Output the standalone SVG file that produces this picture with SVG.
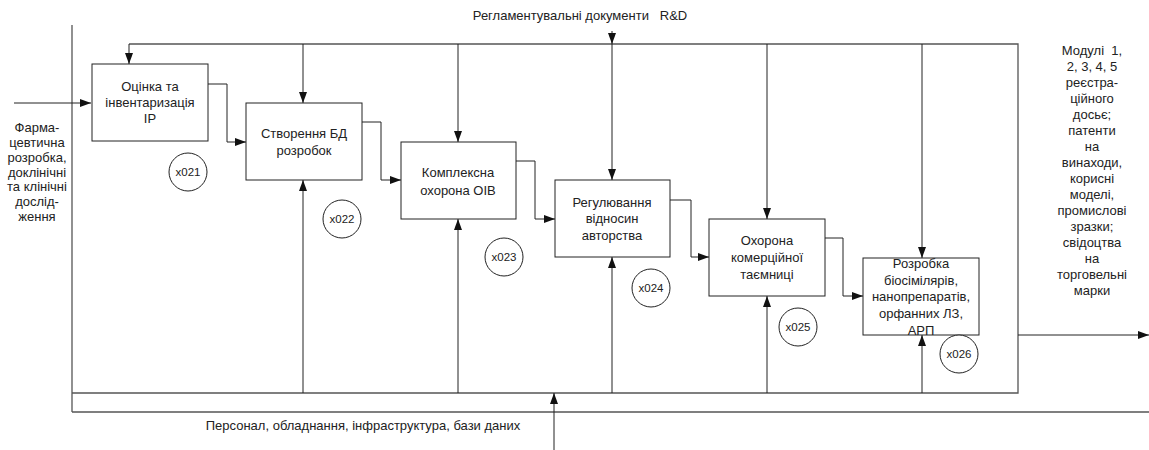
<svg xmlns="http://www.w3.org/2000/svg" width="1149" height="450" viewBox="0 0 1149 450">
<defs>
<marker id="ah" viewBox="0 0 11 8" refX="11" refY="4" markerWidth="11" markerHeight="8" markerUnits="userSpaceOnUse" orient="auto">
<path d="M0,0 L11,4 L0,8 Z" fill="#111"/>
</marker>
</defs>
<style>
text{font-family:"Liberation Sans",Arial,sans-serif;font-size:13px;fill:#222;text-anchor:middle}
.box{fill:#fff;stroke:#222;stroke-width:1}
.frame{fill:none;stroke:#555;stroke-width:1.3}
.a{fill:none;stroke:#222;stroke-width:1;marker-end:url(#ah)}
.circ{fill:#fff;stroke:#222;stroke-width:1}
.ct{font-size:11.5px}
</style>
<rect width="1149" height="450" fill="#fff"/>
<g id="frame">
<path class="frame" d="M72,25 V412"/>
<path class="frame" d="M129,44 H1018 V393 H72"/>
<path class="frame" d="M72,412 H1149"/>
</g>
<g id="connectors">
<path class="a" d="M14,103 H91"/>
<path class="a" d="M129,44 V64"/>
<path class="a" d="M303,44 V103"/>
<path class="a" d="M458,44 V142"/>
<path class="a" d="M612,31 V44"/>
<path class="a" d="M612,44 V180"/>
<path class="a" d="M767,44 V219"/>
<path class="a" d="M922,44 V258"/>
<path class="a" d="M208,84 H227 V142 H246"/>
<path class="a" d="M362,122 H381 V180 H401"/>
<path class="a" d="M516,161 H535 V219 H555"/>
<path class="a" d="M670,200 H691 V257 H709"/>
<path class="a" d="M825,238 H843 V296 H863"/>
<path class="a" d="M303,393 V180"/>
<path class="a" d="M458,393 V219"/>
<path class="a" d="M612,393 V257"/>
<path class="a" d="M767,393 V296"/>
<path class="a" d="M922,393 V335"/>
<path class="a" d="M554,450 V393"/>
<path class="a" d="M1018,335 H1149"/>
</g>
<g id="n1">
<rect class="box" x="92" y="64" width="116" height="77"/>
<text x="150" y="91">Оцінка та</text>
<text x="150" y="107">інвентаризація</text>
<text x="150" y="123">IP</text>
</g>
<g id="n2">
<rect class="box" x="246" y="103" width="116" height="77"/>
<text x="304" y="138">Створення БД</text>
<text x="304" y="155">розробок</text>
</g>
<g id="n3">
<rect class="box" x="401" y="142" width="115" height="77"/>
<text x="458" y="177">Комплексна</text>
<text x="458" y="195">охорона OIB</text>
</g>
<g id="n4">
<rect class="box" x="555" y="180" width="115" height="77"/>
<text x="612" y="207">Регулювання</text>
<text x="612" y="223">відносин</text>
<text x="612" y="240">авторства</text>
</g>
<g id="n5">
<rect class="box" x="709" y="219" width="116" height="77"/>
<text x="767" y="245">Охорона</text>
<text x="767" y="262">комерційної</text>
<text x="767" y="279">таємниці</text>
</g>
<g id="n6">
<rect class="box" x="863" y="258" width="116" height="77"/>
<text x="921" y="268">Розробка</text>
<text x="921" y="285">біосімілярів,</text>
<text x="921" y="301">нанопрепаратів,</text>
<text x="921" y="318">орфанних ЛЗ,</text>
<text x="921" y="335">АРП</text>
</g>
<g id="tags">
<circle class="circ" cx="188" cy="172" r="19"/><text class="ct" x="188" y="176">x021</text>
<circle class="circ" cx="342" cy="219" r="19"/><text class="ct" x="342" y="223">x022</text>
<circle class="circ" cx="504" cy="257" r="19"/><text class="ct" x="504" y="261">x023</text>
<circle class="circ" cx="651" cy="288" r="19"/><text class="ct" x="651" y="292">x024</text>
<circle class="circ" cx="798" cy="327" r="19"/><text class="ct" x="798" y="331">x025</text>
<circle class="circ" cx="959" cy="354" r="19"/><text class="ct" x="959" y="358">x026</text>
</g>
<g id="labels">
<text x="580" y="20">Регламентувальні документи&#160;&#160; R&amp;D</text>
<text x="363" y="430">Персонал, обладнання, інфраструктура, бази даних</text>
<text x="37" y="132">Фарма-</text>
<text x="37" y="147">цевтична</text>
<text x="37" y="162">розробка,</text>
<text x="37" y="177">доклінічні</text>
<text x="37" y="191">та клінічні</text>
<text x="37" y="206">дослід-</text>
<text x="37" y="221">ження</text>
<text x="1092" y="55">Модулі&#160; 1,</text>
<text x="1092" y="71">2, 3, 4, 5</text>
<text x="1092" y="87">реєстра-</text>
<text x="1092" y="103">ційного</text>
<text x="1092" y="119">досьє;</text>
<text x="1092" y="135">патенти</text>
<text x="1092" y="151">на</text>
<text x="1092" y="167">винаходи,</text>
<text x="1092" y="183">корисні</text>
<text x="1092" y="199">моделі,</text>
<text x="1092" y="215">промислові</text>
<text x="1092" y="231">зразки;</text>
<text x="1092" y="247">свідоцтва</text>
<text x="1092" y="263">на</text>
<text x="1092" y="279">торговельні</text>
<text x="1092" y="295">марки</text>
</g>
</svg>
